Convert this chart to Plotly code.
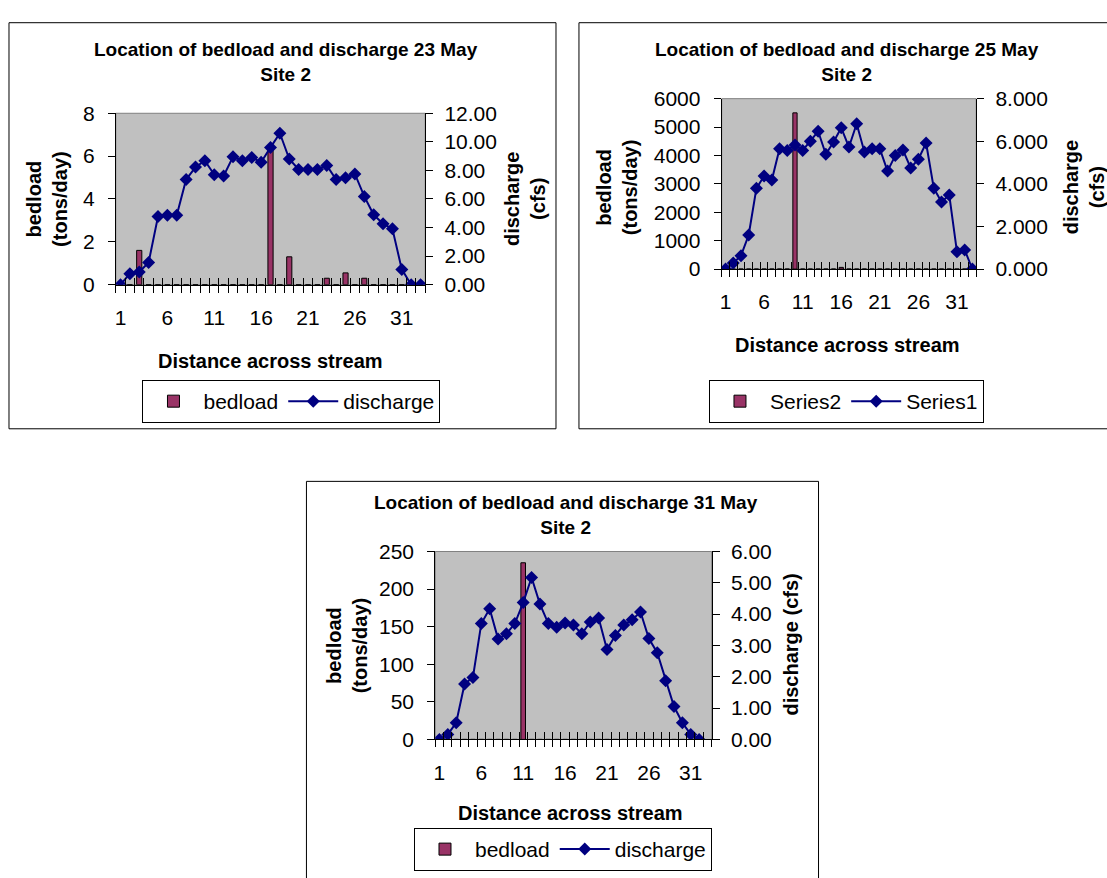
import plotly.graph_objects as go

W, H = 1107, 878
FONT = "Liberation Sans, Arial, sans-serif"

# ---------------- data ----------------
categories = list(range(1, 34))
x_tick_labels = [1, 6, 11, 16, 21, 26, 31]

# 23 May
bedload_23 = [0, 0, 1.6, 0, 0, 0, 0, 0, 0, 0, 0, 0, 0, 0, 0, 0, 6.3, 0, 1.3, 0,
              0, 0, 0.3, 0, 0.55, 0, 0.3, 0, 0, 0, 0, 0, 0]
discharge_23 = [0, 0.77, 0.89, 1.55, 4.77, 4.86, 4.86, 7.36, 8.23, 8.68, 7.70,
                7.61, 8.95, 8.68, 8.90, 8.57, 9.61, 10.60, 8.80, 8.07, 8.07,
                8.07, 8.34, 7.36, 7.48, 7.75, 6.18, 4.89, 4.27, 3.91, 1.07, 0, 0]

# 25 May
bedload_25 = [0, 0, 0, 0, 0, 0, 0, 0, 0, 5500, 0, 0, 0, 0, 0, 60, 0, 0, 0, 0,
              0, 0, 0, 0, 0, 0, 0, 0, 0, 0, 0, 0, 0]
discharge_25 = [0, 0.29, 0.63, 1.60, 3.79, 4.37, 4.18, 5.65, 5.57, 5.82, 5.57,
                6.00, 6.47, 5.39, 5.97, 6.63, 5.73, 6.82, 5.50, 5.65, 5.65,
                4.60, 5.33, 5.59, 4.75, 5.16, 5.92, 3.79, 3.15, 3.48, 0.81,
                0.90, 0]

# 31 May (32 stations)
categories_31 = list(range(1, 33))
bedload_31 = [0, 0, 0, 0, 0, 0, 0, 0, 0, 0, 235, 0, 0, 0, 0, 0, 0, 0, 0, 0,
              0, 0, 0, 0, 0, 0, 0, 0, 0, 0, 0, 0]
discharge_31 = [0, 0.16, 0.53, 1.77, 1.98, 3.70, 4.17, 3.21, 3.37, 3.70, 4.37,
                5.17, 4.32, 3.70, 3.58, 3.72, 3.65, 3.37, 3.75, 3.88, 2.87,
                3.32, 3.65, 3.82, 4.07, 3.22, 2.77, 1.87, 1.05, 0.53, 0.16, 0]

BAR_COLOR = "#993366"
LINE_COLOR = "#000080"


def px_x(v):
    return v / W


def px_y(v):
    return 1 - v / H


charts = [
    dict(title="Location of bedload and discharge 23 May<br>Site 2",
         cats=categories, bed=bedload_23, cats_line=categories, dis=discharge_23,
         bar_name="bedload", line_name="discharge",
         plot=(114, 424, 104, 280), left=(0, 8, 2), right=(0, 12, 2), rfmt=".2f",
         frame=(7, 555, 11, 428), title_xy=(285, 51),
         ltitle=("bedload<br>(tons/day)", 45, 192),
         rtitle=("discharge<br>(cfs)", 524, 192),
         xtitle=(269, 358), legend_xy=(290, 400)),
    dict(title="Location of bedload and discharge 25 May<br>Site 2",
         cats=categories, bed=bedload_25, cats_line=categories, dis=discharge_25,
         bar_name="Series2", line_name="Series1",
         plot=(721, 976, 89, 264), left=(0, 6000, 1000), right=(0, 8, 2), rfmt=".3f",
         frame=(578, 1125, 11, 428), title_xy=(847, 51),
         ltitle=("bedload<br>(tons/day)", 616, 180),
         rtitle=("discharge<br>(cfs)", 1084, 180),
         xtitle=(847, 342), legend_xy=(846, 400)),
    dict(title="Location of bedload and discharge 31 May<br>Site 2",
         cats=categories_31, bed=bedload_31, cats_line=categories_31, dis=discharge_31,
         bar_name="bedload", line_name="discharge",
         plot=(434, 711, 554, 747), left=(0, 250, 50), right=(0, 6, 1), rfmt=".2f",
         frame=(305, 818, 482, 900), title_xy=(565, 517),
         ltitle=("bedload<br>(tons/day)", 346, 650),
         rtitle=("discharge (cfs)", 790, 650),
         xtitle=(570, 823), legend_xy=(562, 860)),
]

fig = go.Figure()
layout = dict(width=W, height=H, autosize=False,
              margin=dict(l=0, r=0, t=0, b=0),
              paper_bgcolor="white", plot_bgcolor="#C0C0C0",
              font=dict(family=FONT, color="black", size=21))
annotations = []
shapes = []
boundaries = [c + 0.5 for c in range(0, 34)]

for k, ch in enumerate(charts):
    xa, xb = 2 * k + 1, 2 * k + 2
    ya, yb = 2 * k + 1, 2 * k + 2
    xn = lambda n: "x" if n == 1 else f"x{n}"
    yn = lambda n: "y" if n == 1 else f"y{n}"
    xk = lambda n: "xaxis" if n == 1 else f"xaxis{n}"
    yk = lambda n: "yaxis" if n == 1 else f"yaxis{n}"
    leg = "legend" if k == 0 else f"legend{k + 1}"

    fig.add_trace(go.Bar(x=ch["cats"], y=ch["bed"], name=ch["bar_name"],
                         marker=dict(color=BAR_COLOR, line=dict(color="black", width=1)),
                         width=0.55, xaxis=xn(xa), yaxis=yn(ya), legend=leg))
    fig.add_trace(go.Scatter(x=ch["cats_line"], y=ch["dis"], name=ch["line_name"],
                             mode="lines+markers",
                             line=dict(color=LINE_COLOR, width=2),
                             marker=dict(symbol="diamond", size=10, color=LINE_COLOR),
                             xaxis=xn(xb), yaxis=yn(yb), legend=leg))

    x0, x1, y0, y1 = ch["plot"]
    xdom = [px_x(x0), px_x(x1)]
    ydom = [px_y(y1), px_y(y0)]

    layout[xk(xa)] = dict(domain=xdom, anchor=yn(ya), range=[0.5, 33.5],
                          tickmode="array", tickvals=x_tick_labels,
                          ticktext=[str(v) for v in x_tick_labels],
                          ticks="", showline=True, linecolor="black", linewidth=1,
                          showgrid=False, zeroline=False,
                          tickfont=dict(size=21), ticklabelstandoff=14,
                          minor=dict(tickmode="array", tickvals=boundaries,
                                     ticks="outside", ticklen=7,
                                     tickcolor="black", tickwidth=1, showgrid=False),
                          fixedrange=True)
    layout[xk(xb)] = dict(overlaying=xn(xa), anchor=yn(ya), range=[0.5, 33.5],
                          tickmode="array", tickvals=boundaries, ticks="inside",
                          ticklen=7, tickcolor="black", showticklabels=False,
                          showline=False, showgrid=False, zeroline=False,
                          fixedrange=True)
    lo, hi, st = ch["left"]
    layout[yk(ya)] = dict(domain=ydom, anchor=xn(xa), range=[lo, hi], dtick=st,
                          tick0=0, ticks="outside", ticklen=7, tickcolor="black",
                          showline=True, linecolor="black", linewidth=1,
                          showgrid=False, zeroline=False, tickfont=dict(size=21),
                          ticklabelstandoff=9, fixedrange=True)
    lo2, hi2, st2 = ch["right"]
    layout[yk(yb)] = dict(overlaying=yn(ya), side="right", anchor=xn(xa),
                          range=[lo2, hi2], dtick=st2, tick0=0, tickformat=ch["rfmt"],
                          ticks="outside", ticklen=7, tickcolor="black",
                          showline=True, linecolor="black", linewidth=1,
                          showgrid=False, zeroline=False, tickfont=dict(size=21),
                          ticklabelstandoff=7, fixedrange=True)

    # plot-area border (grey) and chart frame
    dref = "x domain" if xa == 1 else f"x{xa} domain"
    yref = "y domain" if ya == 1 else f"y{ya} domain"
    shapes.append(dict(type="rect", xref=dref, yref=yref, x0=0, x1=1, y0=0, y1=1,
                       line=dict(color="#808080", width=1), layer="below"))
    fx0, fx1, fy0, fy1 = ch["frame"]
    shapes.append(dict(type="rect", xref="paper", yref="paper",
                       x0=px_x(fx0), x1=px_x(fx1), y0=px_y(fy1), y1=px_y(fy0),
                       line=dict(color="black", width=1)))

    tx, ty = ch["title_xy"]
    annotations.append(dict(text=f"<b>{ch['title']}</b>", x=px_x(tx), y=px_y(ty),
                            xref="paper", yref="paper", showarrow=False,
                            xanchor="center", yanchor="middle",
                            font=dict(size=19, family=FONT)))
    t, lx, ly = ch["ltitle"]
    annotations.append(dict(text=f"<b>{t}</b>", x=px_x(lx), y=px_y(ly),
                            xref="paper", yref="paper", showarrow=False,
                            textangle=-90, xanchor="center", yanchor="middle",
                            font=dict(size=20, family=FONT)))
    t, rx, ry = ch["rtitle"]
    annotations.append(dict(text=f"<b>{t}</b>", x=px_x(rx), y=px_y(ry),
                            xref="paper", yref="paper", showarrow=False,
                            textangle=-90, xanchor="center", yanchor="middle",
                            font=dict(size=20, family=FONT)))
    xtx, xty = ch["xtitle"]
    annotations.append(dict(text="<b>Distance across stream</b>", x=px_x(xtx),
                            y=px_y(xty), xref="paper", yref="paper",
                            showarrow=False, xanchor="center", yanchor="middle",
                            font=dict(size=20, family=FONT)))
    lgx, lgy = ch["legend_xy"]
    layout[leg] = dict(x=px_x(lgx), y=px_y(lgy), xanchor="center", yanchor="middle",
                       xref="paper", yref="paper",
                       orientation="h", bordercolor="black", borderwidth=1,
                       bgcolor="white", font=dict(size=21, family=FONT),
                       traceorder="normal", itemwidth=50)

layout["annotations"] = annotations
layout["shapes"] = shapes
layout["showlegend"] = True
fig.update_layout(**layout)

fig.write_html("out.html")
